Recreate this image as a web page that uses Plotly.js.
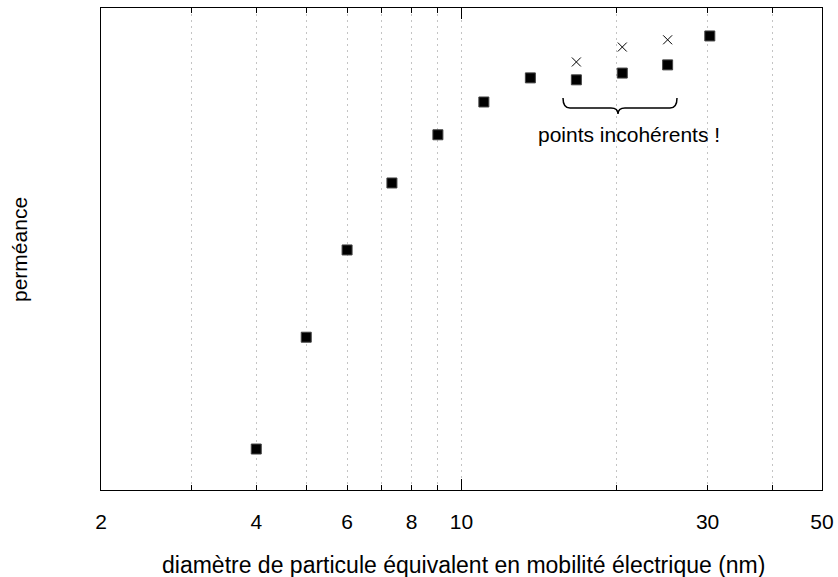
<!DOCTYPE html>
<html>
<head>
<meta charset="utf-8">
<script src="https://cdn.plot.ly/plotly-3.0.1.min.js"></script>
<style>html,body{margin:0;padding:0;background:#fff;}#chart{width:838px;height:577px;}</style>
</head>
<body>
<div id="chart"></div>
<script>
// Data
const diameters = [4.0, 5.0, 6.0, 7.33, 9.0, 11.05, 13.6, 16.7, 20.5, 25.1, 30.3];
const permeance = [0.085, 0.317, 0.498, 0.637, 0.737, 0.805, 0.855, 0.851, 0.865, 0.882, 0.942];
const corrDiameters = [16.7, 20.5, 25.1];
const corrPermeance = [0.888, 0.919, 0.934];
const gridVals = [2, 3, 4, 5, 6, 7, 8, 9, 10, 20, 30, 40, 50];
const gridText = ['2', '', '4', '', '6', '', '8', '', '10', '', '30', '', '50'];
const noteText = 'points incohérents !';
const xTitle = 'diamètre de particule équivalent en mobilité électrique (nm)';
const yTitle = 'perméance';

const W = 838, H = 577, L = 101, R = 16, T = 8, B = 87;
const pw = W - L - R, ph = H - T - B;
const px = v => (v - L) / pw;
const py = v => (H - B - v) / ph;

// curly brace path in paper coordinates
function brace(x0, x1, yTop, yMid, yTip) {
  const xm = (x0 + x1) / 2 - 2;
  const r = 7;
  const P = (x, y) => px(x).toFixed(5) + ',' + py(y).toFixed(5);
  return 'M' + P(x0, yTop) +
    ' Q' + P(x0, yMid) + ' ' + P(x0 + r, yMid) +
    ' L' + P(xm - r, yMid) +
    ' Q' + P(xm, yMid) + ' ' + P(xm, yTip) +
    ' Q' + P(xm, yMid) + ' ' + P(xm + r, yMid) +
    ' L' + P(x1 - r, yMid) +
    ' Q' + P(x1, yMid) + ' ' + P(x1, yTop);
}

const fam = 'Liberation Sans, Arial, sans-serif';
const font = {family: fam, size: 21, color: '#000'};
const xr = [Math.log10(2), Math.log10(50)];

const traces = [
  {
    x: diameters, y: permeance, type: 'scatter', mode: 'markers',
    marker: {symbol: 'square', size: 10, color: '#000', line: {color: '#444', width: 1}},
    showlegend: false
  },
  {
    x: corrDiameters, y: corrPermeance, type: 'scatter', mode: 'markers',
    marker: {symbol: 'x-thin', size: 9, color: '#000', line: {color: '#000', width: 1}},
    showlegend: false
  },
  {
    x: [10], y: [0], xaxis: 'x2', type: 'scatter', mode: 'markers',
    marker: {opacity: 0}, showlegend: false
  }
];

const layout = {
  width: W, height: H,
  margin: {l: L, r: R, t: T, b: B},
  paper_bgcolor: '#fff', plot_bgcolor: '#fff',
  font: font,
  showlegend: false,
  xaxis: {
    type: 'log', range: xr,
    tickmode: 'array', tickvals: gridVals, ticktext: gridText,
    ticks: 'inside', ticklen: 5, tickwidth: 1, tickcolor: '#000',
    showgrid: true, gridcolor: '#c4c4c4', gridwidth: 1, griddash: '2px,4px',
    showline: true, linecolor: '#000', linewidth: 1, mirror: 'ticks',
    zeroline: false, tickfont: font, ticklabelstandoff: 13
  },
  xaxis2: {
    type: 'log', range: xr, overlaying: 'x', anchor: 'y',
    tickmode: 'array', tickvals: [10], ticktext: [''],
    ticks: 'inside', ticklen: 11, tickwidth: 1, tickcolor: '#000',
    mirror: 'ticks', showline: false, showgrid: false, zeroline: false, side: 'bottom'
  },
  yaxis: {
    range: [0, 1], showticklabels: false, ticks: '', showgrid: false, zeroline: false,
    showline: true, linecolor: '#000', linewidth: 1, mirror: true
  },
  shapes: [{
    type: 'path', xref: 'paper', yref: 'paper',
    path: brace(563, 677, 98, 108, 114),
    line: {color: '#000', width: 1.5}
  }],
  annotations: [
    {
      text: noteText, xref: 'paper', yref: 'paper',
      x: px(629), y: py(134), xanchor: 'center', yanchor: 'middle',
      showarrow: false, font: font
    },
    {
      text: xTitle, xref: 'paper', yref: 'paper',
      x: px(463), y: py(565), xanchor: 'center', yanchor: 'middle',
      showarrow: false, font: {family: fam, size: 23, color: '#000'}
    },
    {
      text: yTitle, xref: 'paper', yref: 'paper', textangle: -90,
      x: px(19), y: py(250), xanchor: 'center', yanchor: 'middle',
      showarrow: false, font: font
    }
  ]
};

Plotly.newPlot('chart', traces, layout, {staticPlot: true, displayModeBar: false});
</script>
</body>
</html>
